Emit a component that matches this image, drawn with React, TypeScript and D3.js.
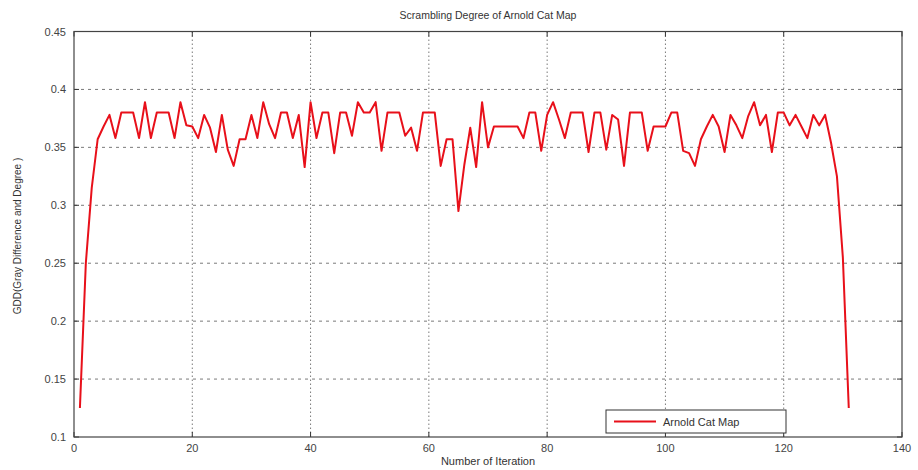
import React from "react";
import * as d3 from "d3";

const xTicks = [0, 20, 40, 60, 80, 100, 120, 140];
const yTicks = [0.1, 0.15, 0.2, 0.25, 0.3, 0.35, 0.4, 0.45];
const yTickLabels = ["0.1", "0.15", "0.2", "0.25", "0.3", "0.35", "0.4", "0.45"];
const seriesName = "Arnold Cat Map";
const firstIteration = 1;
const gdd = [
  0.125, 0.25, 0.315, 0.357, 0.368, 0.378, 0.358, 0.38, 0.38, 0.38,
  0.358, 0.389, 0.358, 0.38, 0.38, 0.38, 0.358, 0.389, 0.369, 0.368,
  0.358, 0.378, 0.367, 0.346, 0.378, 0.348, 0.334, 0.357, 0.357, 0.378,
  0.358, 0.389, 0.37, 0.358, 0.38, 0.38, 0.358, 0.378, 0.333, 0.389,
  0.358, 0.38, 0.38, 0.345, 0.38, 0.38, 0.36, 0.389, 0.38, 0.38,
  0.389, 0.347, 0.38, 0.38, 0.38, 0.36, 0.367, 0.347, 0.38, 0.38,
  0.38, 0.334, 0.357, 0.357, 0.295, 0.335, 0.367, 0.333, 0.389, 0.35,
  0.368, 0.368, 0.368, 0.368, 0.368, 0.358, 0.38, 0.38, 0.347, 0.378,
  0.389, 0.374, 0.358, 0.38, 0.38, 0.38, 0.346, 0.38, 0.38, 0.348,
  0.378, 0.374, 0.334, 0.38, 0.38, 0.38, 0.347, 0.368, 0.368, 0.368,
  0.38, 0.38, 0.347, 0.345, 0.334, 0.357, 0.368, 0.378, 0.368, 0.346,
  0.378, 0.369, 0.358, 0.377, 0.389, 0.369, 0.378, 0.346, 0.38, 0.38,
  0.369, 0.378, 0.368, 0.358, 0.378, 0.369, 0.378, 0.354, 0.325, 0.255,
  0.125,
];

const W = 918;
const H = 470;
const L = 74;
const R = 902;
const T = 31.5;
const B = 437;

export default function App() {
  const x = d3.scaleLinear().domain([0, 140]).range([L, R]);
  const y = d3.scaleLinear().domain([0.1, 0.45]).range([B, T]);
  const pts: [number, number][] = gdd.map((v, i) => [firstIteration + i, v]);
  const line = d3
    .line<[number, number]>()
    .x((d) => x(d[0]))
    .y((d) => y(d[1]));
  const font = "'Liberation Sans', Arial, sans-serif";
  const red = "#e8101a";
  const grid = "#7a7a7a";
  return (
    <svg
      width={W}
      height={H}
      style={{ position: "absolute", left: 0, top: 0, background: "#fff" }}
      fontFamily={font}
    >
      <rect x={0} y={0} width={W} height={H} fill="#fff" />
      {/* grid */}
      {xTicks.slice(1, -1).map((t) => (
        <line
          key={"gx" + t}
          x1={x(t)}
          x2={x(t)}
          y1={T}
          y2={B}
          stroke={grid}
          strokeWidth={1}
          strokeDasharray="1.5,2.5"
        />
      ))}
      {yTicks.slice(1, -1).map((t) => (
        <line
          key={"gy" + t}
          x1={L}
          x2={R}
          y1={y(t)}
          y2={y(t)}
          stroke={grid}
          strokeWidth={1}
          strokeDasharray="3,4"
        />
      ))}
      {/* ticks */}
      {xTicks.map((t) => (
        <g key={"tx" + t}>
          <line x1={x(t)} x2={x(t)} y1={B} y2={B - 5} stroke="#333" />
          <line x1={x(t)} x2={x(t)} y1={T} y2={T + 5} stroke="#333" />
          <text
            x={x(t)}
            y={452}
            textAnchor="middle"
            fontSize={11}
            fill="#444"
          >
            {t}
          </text>
        </g>
      ))}
      {yTicks.map((t, i) => (
        <g key={"ty" + t}>
          <line x1={L} x2={L + 5} y1={y(t)} y2={y(t)} stroke="#333" />
          <line x1={R} x2={R - 5} y1={y(t)} y2={y(t)} stroke="#333" />
          <text
            x={66}
            y={y(t) + 4}
            textAnchor="end"
            fontSize={11}
            fill="#444"
          >
            {yTickLabels[i]}
          </text>
        </g>
      ))}
      {/* box */}
      <rect
        x={L}
        y={T}
        width={R - L}
        height={B - T}
        fill="none"
        stroke="#444"
        strokeWidth={1.2}
      />
      {/* series */}
      <path d={line(pts) || ""} fill="none" stroke={red} strokeWidth={2} strokeLinejoin="round" />
      {/* legend */}
      <rect x={606} y={410} width={180} height={23} fill="#fff" stroke="#333" strokeWidth={1} />
      <line x1={614} x2={656} y1={421.5} y2={421.5} stroke={red} strokeWidth={2} />
      <text x={663} y={425.5} fontSize={11} fill="#333">
        {seriesName}
      </text>
      {/* titles */}
      <text x={488} y={19} textAnchor="middle" fontSize={10.5} fill="#333">
        Scrambling Degree of Arnold Cat Map
      </text>
      <text x={488} y={465} textAnchor="middle" fontSize={11} fill="#333">
        Number of Iteration
      </text>
      <text
        transform={`translate(21, 236) rotate(-90)`}
        textAnchor="middle"
        fontSize={10}
        fill="#333"
      >
        GDD(Gray Difference and Degree )
      </text>
    </svg>
  );
}
